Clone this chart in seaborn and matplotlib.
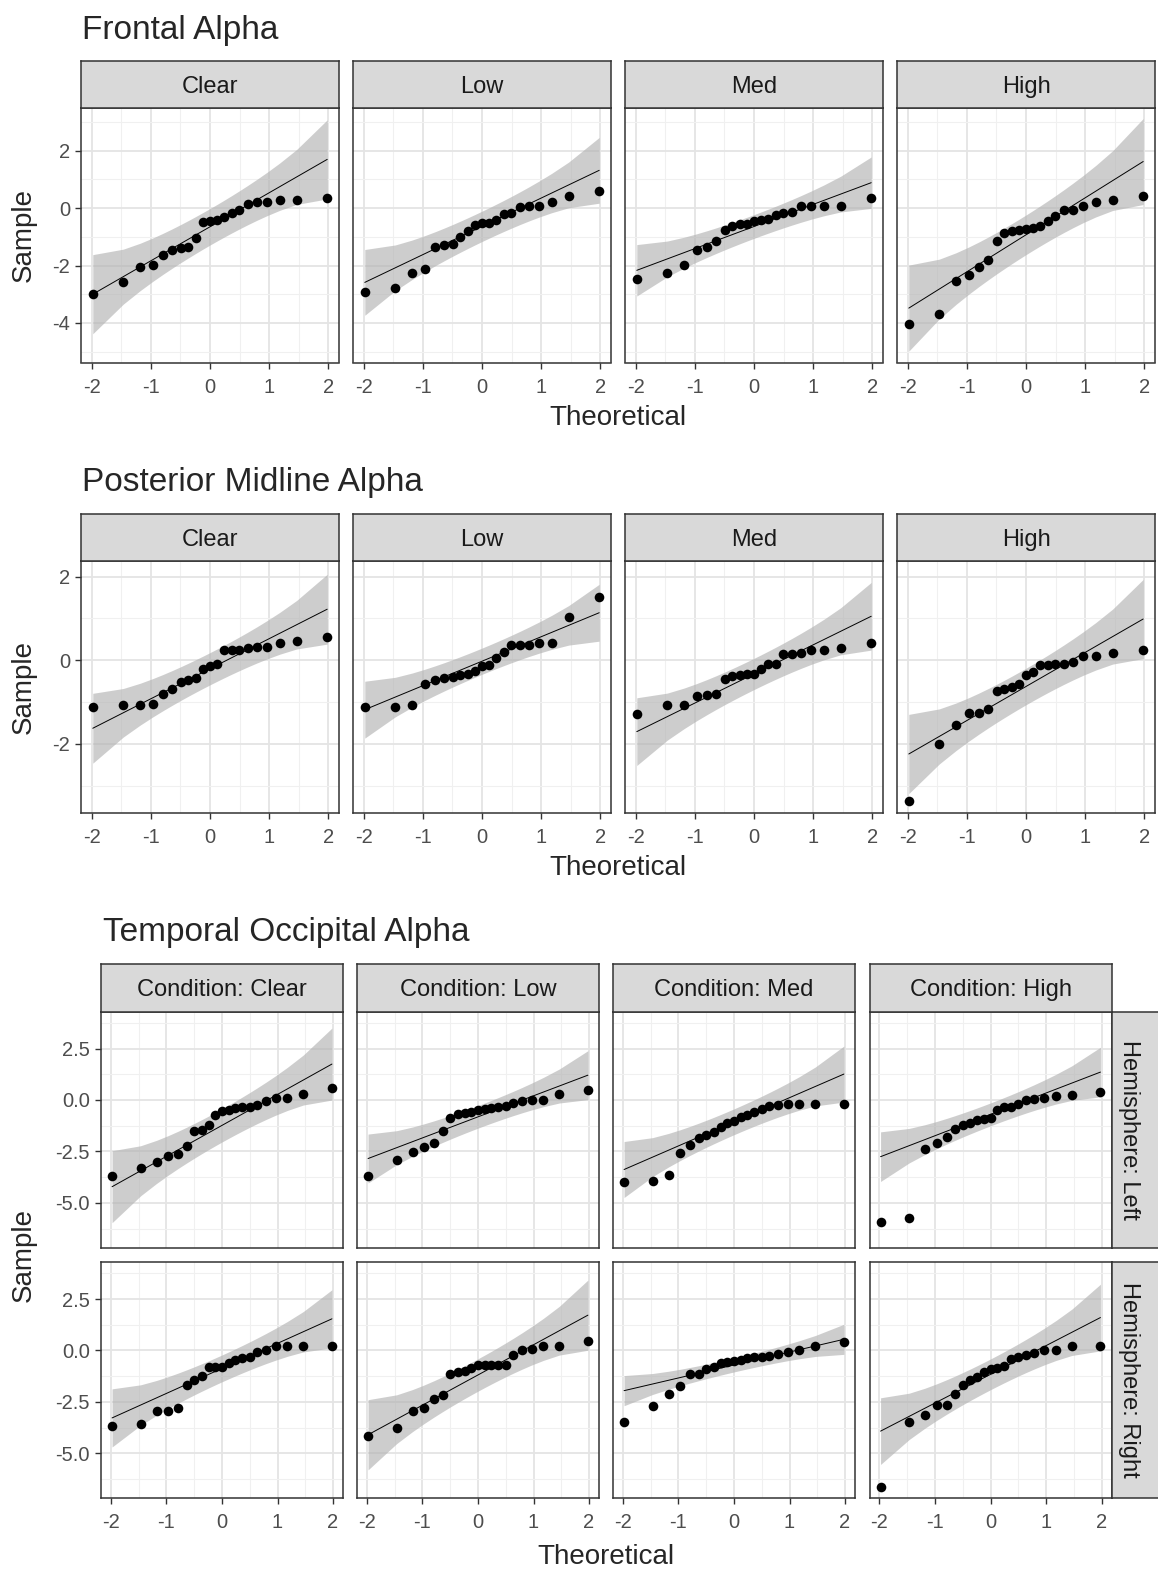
import numpy as np
import pandas as pd
import matplotlib
matplotlib.use("Agg")
import matplotlib.pyplot as plt
import seaborn as sns
from statistics import NormalDist

sns.set_theme(style="white")
plt.rcParams['font.family'] = ['Liberation Sans', 'DejaVu Sans']

conditions = ["Clear", "Low", "Med", "High"]
hemispheres = ["Left", "Right"]

# Sample values (alpha power) per condition
frontal_clear = [-3.00, -2.57, -2.05, -1.99, -1.65, -1.45, -1.39, -1.37, -1.04, -0.49, -0.45,
                 -0.40, -0.30, -0.18, -0.06, 0.15, 0.22, 0.22, 0.28, 0.28, 0.35]
frontal_low = [-2.93, -2.79, -2.25, -2.12, -1.36, -1.30, -1.24, -1.02, -0.81, -0.58, -0.52,
               -0.52, -0.41, -0.21, -0.17, 0.03, 0.08, 0.08, 0.20, 0.41, 0.61]
frontal_med = [-2.47, -2.25, -1.98, -1.45, -1.37, -1.16, -0.75, -0.61, -0.54, -0.54, -0.46,
               -0.43, -0.38, -0.23, -0.17, -0.12, 0.08, 0.08, 0.08, 0.08, 0.35]
frontal_high = [-4.03, -3.69, -2.53, -2.32, -2.05, -1.80, -1.16, -0.87, -0.81, -0.75, -0.73,
                -0.70, -0.64, -0.46, -0.29, -0.06, -0.06, 0.08, 0.20, 0.29, 0.41]

posterior_clear = [-1.12, -1.08, -1.08, -1.04, -0.80, -0.69, -0.52, -0.48, -0.42, -0.22, -0.14,
                   -0.10, 0.24, 0.24, 0.25, 0.28, 0.32, 0.32, 0.42, 0.46, 0.56]
posterior_low = [-1.12, -1.12, -1.08, -0.56, -0.48, -0.42, -0.40, -0.36, -0.32, -0.25, -0.14,
                 -0.12, 0.04, 0.20, 0.36, 0.37, 0.37, 0.41, 0.41, 1.04, 1.50]
posterior_med = [-1.30, -1.07, -1.07, -0.85, -0.84, -0.80, -0.46, -0.38, -0.36, -0.33, -0.32,
                 -0.22, -0.10, -0.08, 0.14, 0.14, 0.18, 0.24, 0.24, 0.28, 0.42]
posterior_high = [-3.36, -2.01, -1.54, -1.26, -1.26, -1.18, -0.74, -0.70, -0.64, -0.56, -0.36,
                  -0.28, -0.12, -0.12, -0.10, -0.08, -0.04, 0.10, 0.10, 0.18, 0.24]

temporal_left_clear = [-3.68, -3.29, -3.03, -2.71, -2.63, -2.25, -1.51, -1.48, -1.20, -0.75, -0.56,
                       -0.47, -0.39, -0.35, -0.32, -0.22, -0.03, 0.10, 0.10, 0.29, 0.58]
temporal_left_low = [-3.68, -2.92, -2.55, -2.28, -2.09, -1.51, -0.87, -0.70, -0.64, -0.58, -0.50,
                     -0.45, -0.40, -0.33, -0.27, -0.13, -0.03, 0.00, 0.00, 0.29, 0.48]
temporal_left_med = [-4.01, -3.93, -3.64, -2.60, -2.20, -1.85, -1.70, -1.55, -1.30, -1.12, -1.00,
                     -0.85, -0.72, -0.58, -0.45, -0.27, -0.25, -0.19, -0.19, -0.19, -0.19]
temporal_left_high = [-5.94, -5.76, -2.36, -2.07, -1.80, -1.40, -1.24, -1.12, -0.96, -0.91, -0.87,
                      -0.48, -0.35, -0.32, -0.19, 0.00, 0.05, 0.08, 0.21, 0.26, 0.40]
temporal_right_clear = [-3.69, -3.57, -2.92, -2.92, -2.80, -1.69, -1.44, -1.23, -0.82, -0.79, -0.79,
                        -0.62, -0.46, -0.38, -0.30, -0.05, 0.03, 0.20, 0.20, 0.20, 0.20]
temporal_right_low = [-4.18, -3.77, -2.92, -2.80, -2.34, -2.18, -1.16, -1.07, -1.00, -0.85, -0.72,
                      -0.70, -0.70, -0.70, -0.70, -0.20, 0.00, 0.05, 0.20, 0.20, 0.48]
temporal_right_med = [-3.46, -2.70, -2.13, -1.72, -1.13, -1.13, -0.92, -0.82, -0.62, -0.55, -0.50,
                      -0.44, -0.38, -0.34, -0.32, -0.28, -0.18, -0.08, 0.03, 0.20, 0.39]
temporal_right_high = [-6.64, -3.46, -3.16, -2.67, -2.67, -2.10, -1.66, -1.45, -1.28, -1.05, -0.92,
                       -0.84, -0.75, -0.40, -0.32, -0.22, -0.10, 0.03, 0.03, 0.20, 0.20]

frontal = [frontal_clear, frontal_low, frontal_med, frontal_high]
posterior = [posterior_clear, posterior_low, posterior_med, posterior_high]
temporal_left = [temporal_left_clear, temporal_left_low, temporal_left_med, temporal_left_high]
temporal_right = [temporal_right_clear, temporal_right_low, temporal_right_med, temporal_right_high]

W, H = 1158, 1572
fig = plt.figure(figsize=(W / 100, H / 100), dpi=100)
fig.patch.set_facecolor("white")

BORDER = "#333333"
STRIP_FILL = "#D9D9D9"
TICK_FS = 14.5
STRIP_FS = 17
AXTITLE_FS = 20
TITLE_FS = 24
ND = NormalDist()


def box(x, y, w, h):
    return [x / W, 1 - (y + h) / H, w / W, h / H]


def qq_frame(values):
    s = np.sort(np.asarray(values, float))
    n = len(s)
    p = (np.arange(1, n + 1) - 0.5) / n
    z = np.array([ND.inv_cdf(v) for v in p])
    q1, q3 = np.quantile(s, [0.25, 0.75])
    zq1, zq3 = ND.inv_cdf(0.25), ND.inv_cdf(0.75)
    slope = (q3 - q1) / (zq3 - zq1)
    inter = q1 - slope * zq1
    fit = inter + slope * z
    dens = np.array([ND.pdf(v) for v in z])
    se = slope / dens * np.sqrt(p * (1 - p) / n)
    zc = ND.inv_cdf(0.975)
    return pd.DataFrame({"theoretical": z, "sample": s, "fit": fit,
                         "lower": fit - zc * se, "upper": fit + zc * se})


def draw_panel(rect, values, ylim, yticks, ylabels, yminor, show_y, show_x):
    ax = fig.add_axes(box(*rect))
    df = qq_frame(values)
    ax.fill_between(df["theoretical"], df["lower"], df["upper"], color="#B3B3B3",
                    alpha=0.65, linewidth=0, zorder=2)
    sns.lineplot(data=df, x="theoretical", y="fit", ax=ax, color="black",
                 linewidth=0.7, zorder=3)
    sns.scatterplot(data=df, x="theoretical", y="sample", ax=ax, color="black",
                    s=48, linewidth=0, zorder=4)
    ax.set_xlim(-2.18, 2.18)
    ax.set_ylim(*ylim)
    ax.set_xticks([-2, -1, 0, 1, 2])
    ax.set_xticks([-1.5, -0.5, 0.5, 1.5], minor=True)
    ax.set_yticks(yticks)
    ax.set_yticks(yminor, minor=True)
    ax.set_xticklabels(["-2", "-1", "0", "1", "2"] if show_x else [])
    ax.set_yticklabels(ylabels if show_y else [])
    ax.grid(which="major", color="#E4E4E4", linewidth=1.3, zorder=0)
    ax.grid(which="minor", color="#F0F0F0", linewidth=0.8, zorder=0)
    ax.set_axisbelow(True)
    ax.set_xlabel("")
    ax.set_ylabel("")
    ax.tick_params(which="major", labelsize=TICK_FS, labelcolor="#4D4D4D", color=BORDER,
                   length=4, width=1.0, direction="out",
                   bottom=show_x, left=show_y)
    ax.tick_params(axis="x", pad=7)
    ax.tick_params(axis="y", pad=4)
    ax.tick_params(which="minor", length=0)
    for sp in ax.spines.values():
        sp.set_color(BORDER)
        sp.set_linewidth(1.1)
    ax.set_facecolor("white")
    return ax


def strip(rect):
    ax = fig.add_axes(box(*rect))
    ax.set_facecolor(STRIP_FILL)
    ax.set_xticks([])
    ax.set_yticks([])
    for sp in ax.spines.values():
        sp.set_color(BORDER)
        sp.set_linewidth(1.1)
    return ax


def strip_text(x, y, label, rotation=0):
    fig.text(x / W, 1 - y / H, label, ha="center", va="center", fontsize=STRIP_FS,
             color="#1A1A1A", rotation=rotation)


# ---- Frontal Alpha ----
cols1 = [81, 353, 625, 897]
pw1 = 258
for i, (x0, vals) in enumerate(zip(cols1, frontal)):
    draw_panel((x0, 108, pw1, 254.5), vals, (-5.38, 3.49), [-4, -2, 0, 2],
               ["-4", "-2", "0", "2"], [-5, -3, -1, 1, 3], i == 0, True)
    strip((x0, 61, pw1, 47))
    strip_text(x0 + pw1 / 2, 87, conditions[i])
fig.text(82 / W, 1 - 39 / H, "Frontal Alpha", fontsize=TITLE_FS, ha="left", va="baseline")
fig.text(618 / W, 1 - 418 / H, "Theoretical", fontsize=AXTITLE_FS, ha="center", va="center")
fig.text(24 / W, 1 - 235 / H, "Sample", fontsize=AXTITLE_FS, ha="center", va="center", rotation=90)

# ---- Posterior Midline Alpha ----
for i, (x0, vals) in enumerate(zip(cols1, posterior)):
    draw_panel((x0, 560.7, pw1, 252), vals, (-3.65, 2.38), [-2, 0, 2],
               ["-2", "0", "2"], [-3, -1, 1], i == 0, True)
    strip((x0, 513.7, pw1, 47))
    strip_text(x0 + pw1 / 2, 539.7, conditions[i])
fig.text(82 / W, 1 - 491.5 / H, "Posterior Midline Alpha", fontsize=TITLE_FS, ha="left", va="baseline")
fig.text(618 / W, 1 - 868 / H, "Theoretical", fontsize=AXTITLE_FS, ha="center", va="center")
fig.text(24 / W, 1 - 687 / H, "Sample", fontsize=AXTITLE_FS, ha="center", va="center", rotation=90)

# ---- Temporal Occipital Alpha (condition x hemisphere grid) ----
cols3 = [101, 357, 613, 869.5]
pw3 = 242
rows3 = [1011.5, 1262]
ph3 = 236
ylim3 = (-7.17, 4.3)
for r, (y0, row_vals) in enumerate(zip(rows3, [temporal_left, temporal_right])):
    for i, (x0, vals) in enumerate(zip(cols3, row_vals)):
        draw_panel((x0, y0, pw3, ph3), vals, ylim3, [-5, -2.5, 0, 2.5],
                   ["-5.0", "-2.5", "0.0", "2.5"], [-6.25, -3.75, -1.25, 1.25, 3.75],
                   i == 0, r == 1)
    strip((1111.5, y0, 60, ph3))
    strip_text(1129, y0 + ph3 / 2, "Hemisphere: " + hemispheres[r], rotation=270)
for i, x0 in enumerate(cols3):
    strip((x0, 963.5, pw3, 48))
    strip_text(x0 + pw3 / 2, 990, "Condition: " + conditions[i])
fig.text(103 / W, 1 - 941 / H, "Temporal Occipital Alpha", fontsize=TITLE_FS, ha="left", va="baseline")
fig.text(606 / W, 1 - 1557 / H, "Theoretical", fontsize=AXTITLE_FS, ha="center", va="center")
fig.text(24 / W, 1 - 1255 / H, "Sample", fontsize=AXTITLE_FS, ha="center", va="center", rotation=90)

fig.savefig("out.png", dpi=100, facecolor="white")
